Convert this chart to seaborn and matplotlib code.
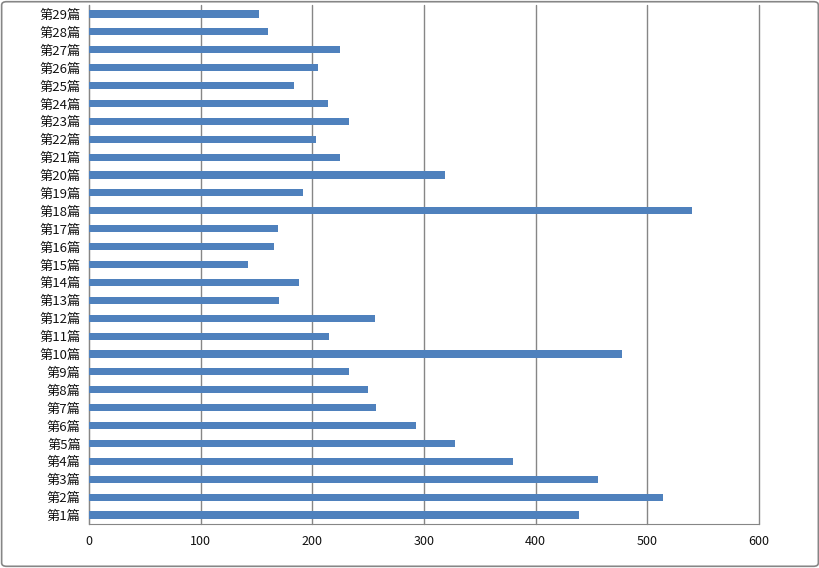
import matplotlib
matplotlib.use("Agg")
import matplotlib.pyplot as plt
import seaborn as sns
import pandas as pd
import numpy as np
from matplotlib.patches import FancyBboxPatch

chapters = [f"第{i}篇" for i in range(1, 30)]
values = [439, 514, 456, 380, 328, 293, 257, 250, 233, 477,
          215, 256, 170, 188, 142, 166, 169, 540, 192, 319,
          225, 203, 233, 214, 184, 205, 225, 160, 152]

sns.set_style("white")
plt.rcParams['font.family'] = ['Noto Sans CJK SC', 'DejaVu Sans']

df = pd.DataFrame({"chapter": chapters, "value": values})
order = chapters[::-1]

fig = plt.figure(figsize=(8.2, 5.68), dpi=100)
ax = fig.add_axes([89/820, 44/568, (759-89)/820, (524-5)/568])

sns.barplot(data=df, y="chapter", x="value", order=order, orient="h",
            color="#4f81bd", saturation=1, width=0.4, linewidth=0,
            ax=ax, zorder=3)

ax.set_xlim(0, 600)
ax.set_ylim(28.5, -0.5)
ax.set_xticks(np.arange(0, 601, 100))
ax.xaxis.grid(True, color="#868686", linewidth=1, zorder=0)
for gl in ax.get_xgridlines():
    gl.set_clip_on(False)
ax.set_axisbelow(True)
ax.set_xlabel("")
ax.set_ylabel("")
for s in ["top", "right"]:
    ax.spines[s].set_visible(False)
ax.spines["left"].set_color("#868686")
ax.spines["bottom"].set_color("#868686")
ax.tick_params(axis="y", length=0, labelsize=9.5, pad=6, labelcolor="#111111")
ax.tick_params(axis="x", length=0, labelsize=9, pad=8, labelcolor="#111111")
ax.set_yticks(np.arange(-0.5, 29, 1), minor=True)
ax.tick_params(axis="y", which="minor", length=4, color="#868686", width=1)

fig.patches.append(FancyBboxPatch((0.002, 0.003), 0.996, 0.994,
                                  boxstyle="round,pad=0,rounding_size=0.006",
                                  transform=fig.transFigure, fill=False,
                                  edgecolor="#868686", linewidth=1.2))
fig.savefig("out.png", dpi=100)
